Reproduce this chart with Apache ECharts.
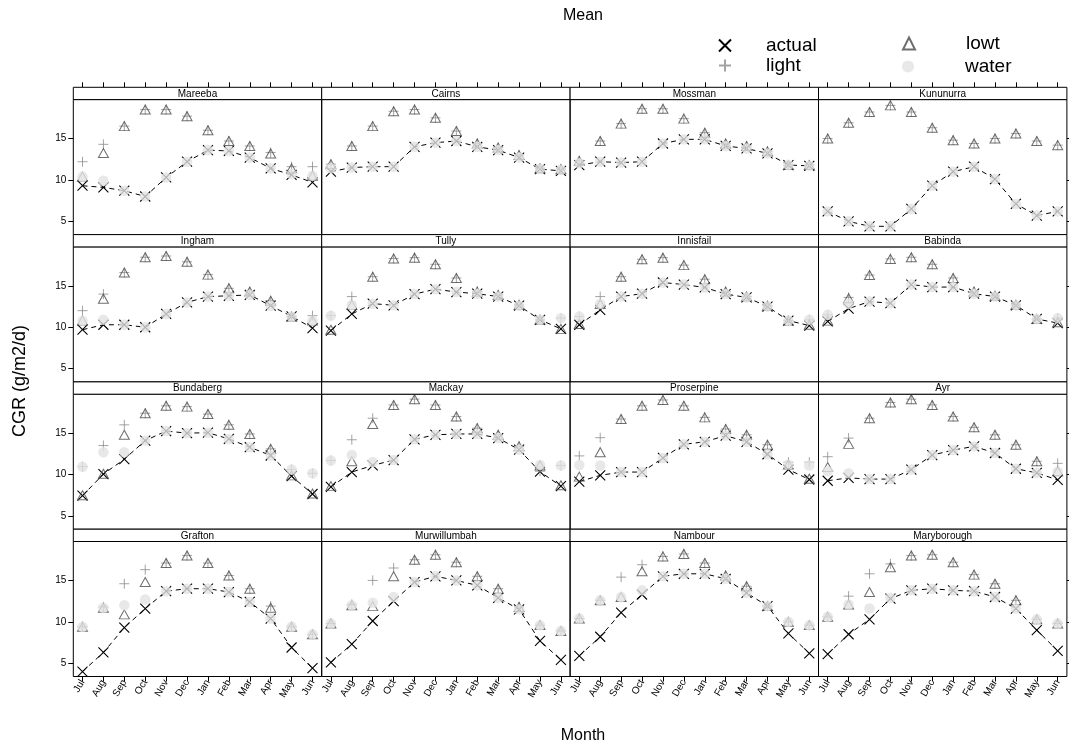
<!DOCTYPE html>
<html>
<head>
<meta charset="utf-8">
<script src="https://cdn.jsdelivr.net/npm/echarts@6/dist/echarts.min.js"></script>
<style>
  html, body { margin: 0; padding: 0; background: #fff; }
  #chart { width: 1069px; height: 752px; }
</style>
</head>
<body>
<div id="chart"></div>
<script>
// Mean monthly crop growth rate (g/m2/d) by site, July to June
const months = ['Jul', 'Aug', 'Sep', 'Oct', 'Nov', 'Dec', 'Jan', 'Feb', 'Mar', 'Apr', 'May', 'Jun'];
const sites = ['Mareeba', 'Cairns', 'Mossman', 'Kununurra',
               'Ingham', 'Tully', 'Innisfail', 'Babinda',
               'Bundaberg', 'Mackay', 'Proserpine', 'Ayr',
               'Grafton', 'Murwillumbah', 'Nambour', 'Maryborough'];
const yTicks = [5, 10, 15];

const actual = [
  [9.3, 9.1, 8.7, 8.0, 10.3, 12.2, 13.6, 13.5, 12.7, 11.4, 10.6, 9.7],
  [11.0, 11.5, 11.6, 11.6, 14.0, 14.5, 14.7, 14.0, 13.6, 12.7, 11.3, 11.1],
  [11.8, 12.2, 12.1, 12.2, 14.4, 14.9, 14.9, 14.1, 13.8, 13.2, 11.8, 11.7],
  [6.2, 5.0, 4.4, 4.4, 6.5, 9.3, 11.0, 11.6, 10.1, 7.1, 5.7, 6.2],
  [9.7, 10.3, 10.3, 10.0, 11.6, 13.0, 13.7, 13.8, 13.9, 12.6, 11.3, 9.9],
  [9.6, 11.6, 12.85, 12.65, 14.0, 14.6, 14.25, 14.05, 13.7, 12.6, 10.9, 9.8],
  [10.3, 12.1, 13.7, 14.05, 15.4, 15.15, 14.8, 14.0, 13.6, 12.5, 10.8, 10.2],
  [10.7, 12.25, 13.1, 12.9, 15.15, 14.85, 14.85, 14.05, 13.7, 12.65, 11.0, 10.5],
  [7.45, 10.05, 11.85, 14.1, 15.25, 15.0, 15.05, 14.3, 13.3, 12.3, 9.8, 7.65],
  [8.5, 10.3, 11.1, 11.75, 14.25, 14.8, 14.9, 14.9, 14.4, 13.0, 10.35, 8.6],
  [9.15, 9.9, 10.3, 10.3, 12.0, 13.65, 13.95, 14.7, 13.95, 12.45, 10.6, 9.4],
  [9.25, 9.6, 9.45, 9.45, 10.6, 12.35, 12.95, 13.4, 12.6, 10.7, 10.2, 9.35],
  [4.0, 6.3, 9.3, 11.6, 13.7, 14.0, 14.0, 13.6, 12.4, 10.4, 6.9, 4.4],
  [5.1, 7.3, 10.1, 12.5, 14.8, 15.5, 15.0, 14.4, 12.9, 11.5, 7.7, 5.4],
  [5.9, 8.2, 11.1, 13.3, 15.5, 15.8, 15.8, 15.2, 13.5, 11.9, 8.6, 6.2],
  [6.1, 8.5, 10.3, 12.8, 13.8, 14.0, 13.8, 13.7, 13.0, 11.6, 9.0, 6.5]
];

const light = [
  [12.2, 14.3, 16.5, 18.5, 18.5, 17.7, 16.0, 14.7, 14.1, 13.3, 11.6, 11.6],
  [11.9, 14.1, 16.5, 18.3, 18.5, 17.5, 15.9, 14.4, 13.9, 13.0, 11.4, 11.3],
  [12.3, 14.7, 16.8, 18.6, 18.6, 17.4, 15.7, 14.4, 14.1, 13.45, 11.8, 11.8],
  [15.0, 16.9, 18.2, 19.0, 18.2, 16.3, 14.8, 14.4, 15.0, 15.6, 14.7, 14.2],
  [12.0, 14.0, 16.6, 18.45, 18.6, 17.9, 16.35, 14.7, 14.3, 13.2, 11.3, 11.4],
  [11.4, 13.7, 16.1, 18.3, 18.4, 17.6, 15.95, 14.3, 13.9, 12.7, 10.9, 11.1],
  [11.3, 13.7, 16.1, 18.2, 18.4, 17.5, 15.8, 14.3, 13.7, 12.6, 10.8, 10.9],
  [11.5, 13.6, 16.3, 18.25, 18.45, 17.6, 15.95, 14.3, 13.8, 12.7, 11.0, 11.1],
  [10.95, 13.5, 16.0, 17.4, 18.3, 18.2, 17.3, 16.0, 14.9, 13.1, 10.6, 10.15],
  [11.7, 14.2, 16.8, 18.4, 19.1, 18.4, 17.0, 15.6, 14.8, 13.4, 10.4, 11.1],
  [12.25, 14.45, 16.7, 18.3, 19.0, 18.3, 16.9, 15.5, 14.8, 13.6, 11.5, 11.5],
  [12.15, 14.4, 16.8, 18.7, 19.1, 18.4, 17.0, 15.7, 14.8, 13.6, 11.6, 11.35],
  [9.4, 11.8, 14.6, 16.3, 17.1, 18.0, 17.1, 15.6, 14.0, 11.9, 9.4, 8.5],
  [9.8, 12.1, 15.0, 16.5, 17.5, 18.1, 17.2, 15.5, 14.0, 11.8, 9.6, 8.9],
  [10.4, 12.6, 15.4, 16.9, 17.9, 18.2, 17.1, 15.6, 14.3, 11.9, 10.0, 9.6],
  [10.6, 13.1, 15.8, 17.0, 18.0, 18.1, 17.2, 15.7, 14.6, 12.6, 10.3, 9.8]
];

const lowt = [
  [10.4, 13.25, 16.5, 18.5, 18.5, 17.7, 16.0, 14.7, 14.1, 13.2, 11.4, 10.5],
  [11.9, 14.1, 16.5, 18.3, 18.5, 17.5, 15.9, 14.4, 13.9, 13.0, 11.4, 11.3],
  [12.3, 14.7, 16.8, 18.6, 18.6, 17.4, 15.7, 14.4, 14.1, 13.45, 11.8, 11.8],
  [15.0, 16.9, 18.2, 19.0, 18.2, 16.3, 14.8, 14.4, 15.0, 15.6, 14.7, 14.2],
  [10.8, 13.45, 16.6, 18.45, 18.6, 17.9, 16.35, 14.7, 14.3, 13.2, 11.3, 10.8],
  [9.7, 12.7, 16.1, 18.3, 18.4, 17.6, 15.95, 14.3, 13.9, 12.7, 10.9, 9.8],
  [10.4, 12.8, 16.1, 18.2, 18.4, 17.5, 15.8, 14.3, 13.7, 12.6, 10.8, 10.3],
  [10.8, 13.5, 16.3, 18.25, 18.45, 17.6, 15.95, 14.3, 13.8, 12.7, 11.0, 10.6],
  [7.5, 10.1, 14.8, 17.4, 18.3, 18.2, 17.3, 16.0, 14.9, 13.1, 9.9, 7.7],
  [8.6, 11.6, 16.1, 18.4, 19.1, 18.4, 17.0, 15.6, 14.8, 13.4, 11.1, 8.7],
  [9.75, 12.7, 16.7, 18.3, 19.0, 18.3, 16.9, 15.5, 14.8, 13.6, 11.2, 9.5],
  [10.9, 13.7, 16.8, 18.7, 19.1, 18.4, 17.0, 15.7, 14.8, 13.6, 11.6, 10.4],
  [9.4, 11.7, 10.9, 14.8, 17.1, 18.0, 17.1, 15.6, 14.0, 11.7, 9.4, 8.5],
  [9.8, 12.0, 11.9, 15.5, 17.5, 18.1, 17.2, 15.5, 14.0, 11.8, 9.6, 8.9],
  [10.4, 12.6, 13.0, 16.1, 17.9, 18.2, 17.1, 15.6, 14.3, 11.9, 10.0, 9.6],
  [10.6, 12.1, 13.6, 16.6, 18.0, 18.1, 17.2, 15.7, 14.6, 12.6, 10.3, 9.8]
];

const water = [
  [10.4, 9.9, 8.7, 8.0, 10.3, 12.2, 13.6, 13.5, 12.7, 11.4, 10.7, 10.5],
  [11.4, 11.5, 11.6, 11.6, 14.0, 14.5, 14.7, 14.0, 13.6, 12.7, 11.35, 11.2],
  [12.0, 12.2, 12.1, 12.2, 14.4, 14.9, 14.9, 14.1, 13.8, 13.2, 11.8, 11.7],
  [6.2, 5.0, 4.4, 4.4, 6.5, 9.3, 11.0, 11.6, 10.1, 7.1, 5.7, 6.2],
  [10.8, 10.9, 10.3, 10.0, 11.6, 13.0, 13.7, 13.8, 13.9, 12.6, 11.3, 10.8],
  [11.4, 12.7, 12.85, 12.65, 14.0, 14.6, 14.25, 14.05, 13.7, 12.6, 10.9, 11.1],
  [11.3, 12.8, 13.7, 14.05, 15.4, 15.15, 14.8, 14.0, 13.6, 12.5, 10.8, 10.9],
  [11.5, 12.85, 13.1, 12.9, 15.15, 14.85, 14.85, 14.05, 13.7, 12.65, 11.0, 11.1],
  [10.95, 12.7, 12.7, 14.1, 15.25, 15.0, 15.05, 14.3, 13.3, 12.3, 10.6, 10.15],
  [11.7, 12.35, 11.5, 11.75, 14.25, 14.8, 14.9, 14.9, 14.4, 13.0, 11.15, 11.1],
  [11.15, 11.1, 10.3, 10.3, 12.0, 13.65, 13.95, 14.7, 13.95, 12.45, 11.2, 11.1],
  [10.4, 10.15, 9.45, 9.45, 10.6, 12.35, 12.95, 13.4, 12.6, 10.7, 10.2, 10.35],
  [9.4, 11.7, 12.0, 12.7, 13.7, 14.0, 14.0, 13.6, 12.4, 10.4, 9.4, 8.5],
  [9.8, 12.0, 12.3, 13.0, 14.8, 15.5, 15.0, 14.4, 12.9, 11.5, 9.6, 8.9],
  [10.4, 12.6, 13.0, 13.8, 15.5, 15.8, 15.8, 15.2, 13.5, 11.9, 10.0, 9.6],
  [10.6, 12.1, 11.6, 12.9, 13.8, 14.0, 13.8, 13.7, 13.0, 11.6, 10.3, 9.8]
];

const FONT = '"Liberation Sans", Arial, Helvetica, sans-serif';
const CROSS = 'path://M0,0L10,10M10,0L0,10';
const PLUS = 'path://M5,0L5,10M0,5L10,5';

// panel layout: 4 x 4 lattice with a strip above each panel
const PANEL_LEFT = 73.3, PANEL_W = 248.4, PANEL_TOP = 87.3, ROW_H = 147.3, STRIP_H = 12.3;
const NCOL = 4, NROW = 4;
const monthIdx = months.map((m, k) => k);
const X_MIN = -0.44, X_MAX = 11.44, Y_MIN = 3.4, Y_MAX = 19.7;

const grids = [], xAxes = [], yAxes = [], series = [], graphics = [];
const tickStyle = { color: '#000', width: 1 };

sites.forEach((site, i) => {
  const r = Math.floor(i / NCOL), c = i % NCOL;
  const left = PANEL_LEFT + c * PANEL_W;
  const rowTop = PANEL_TOP + r * ROW_H;
  grids.push({
    left: left, top: rowTop + STRIP_H, width: PANEL_W, height: ROW_H - STRIP_H,
    show: true, borderColor: '#000', borderWidth: 1, backgroundColor: 'transparent'
  });

  // x axis: month labels under the bottom row, plain ticks above the top row
  const bottomRow = r === NROW - 1, topRow = r === 0;
  xAxes.push({
    type: 'value', gridIndex: i, min: X_MIN, max: X_MAX,
    position: topRow ? 'top' : 'bottom', offset: topRow ? STRIP_H : 0,
    axisLine: { show: false, onZero: false }, splitLine: { show: false },
    axisTick: { show: bottomRow || topRow, customValues: monthIdx, length: 5, lineStyle: tickStyle },
    axisLabel: {
      show: bottomRow, customValues: monthIdx, rotate: 60, margin: 4,
      formatter: v => months[Math.round(v)], fontSize: 10, color: '#000', fontFamily: FONT
    }
  });

  // y axis: labelled on the left column, plain ticks on the right column
  const leftCol = c === 0, rightCol = c === NCOL - 1;
  yAxes.push({
    type: 'value', gridIndex: i, min: Y_MIN, max: Y_MAX,
    position: rightCol ? 'right' : 'left',
    axisLine: { show: false, onZero: false }, splitLine: { show: false },
    axisTick: { show: leftCol || rightCol, customValues: yTicks, length: 5, lineStyle: tickStyle },
    axisLabel: { show: leftCol, customValues: yTicks, margin: 7, fontSize: 10, color: '#000', fontFamily: FONT }
  });

  const pts = arr => arr[i].map((v, k) => [k, v]);
  series.push({
    name: 'actual', type: 'line', xAxisIndex: i, yAxisIndex: i, data: pts(actual),
    symbol: CROSS, symbolSize: 10, showAllSymbol: true, z: 2,
    lineStyle: { color: '#000', width: 1, type: [5, 4] },
    itemStyle: { color: 'rgba(0,0,0,0)', borderColor: '#000', borderWidth: 1.1 },
    emphasis: { disabled: true }
  });
  series.push({
    name: 'light', type: 'scatter', xAxisIndex: i, yAxisIndex: i, data: pts(light),
    symbol: PLUS, symbolSize: 10, z: 3,
    itemStyle: { color: 'rgba(0,0,0,0)', borderColor: '#8c8c8c', borderWidth: 1 },
    emphasis: { disabled: true }
  });
  series.push({
    name: 'lowt', type: 'scatter', xAxisIndex: i, yAxisIndex: i, data: pts(lowt),
    symbol: 'triangle', symbolSize: [10, 9], z: 4,
    itemStyle: { color: 'rgba(0,0,0,0)', borderColor: '#4a4a4a', borderWidth: 1 },
    emphasis: { disabled: true }
  });
  series.push({
    name: 'water', type: 'scatter', xAxisIndex: i, yAxisIndex: i, data: pts(water),
    symbol: 'circle', symbolSize: 10.5, z: 5,
    itemStyle: { color: '#e2e2e2' },
    emphasis: { disabled: true }
  });

  // strip with the site name
  graphics.push({
    type: 'rect', shape: { x: left, y: rowTop, width: PANEL_W, height: STRIP_H },
    style: { fill: '#fff', stroke: '#000', lineWidth: 1 }, z: 10
  });
  graphics.push({
    type: 'text', x: left + PANEL_W / 2, y: rowTop + STRIP_H / 2 + 0.5, z: 11,
    style: { text: site, fill: '#000', font: '10px ' + FONT, textAlign: 'center', textVerticalAlign: 'middle' }
  });
});

graphics.push({
  type: 'text', x: 583, y: 16,
  style: { text: 'Mean', fill: '#000', font: '16px ' + FONT, textAlign: 'center', textVerticalAlign: 'middle' }
});
graphics.push({
  type: 'text', x: 583, y: 736,
  style: { text: 'Month', fill: '#000', font: '16px ' + FONT, textAlign: 'center', textVerticalAlign: 'middle' }
});
graphics.push({
  type: 'text', x: 20, y: 381, rotation: Math.PI / 2,
  style: { text: 'CGR (g/m2/d)', fill: '#000', font: '18px ' + FONT, textAlign: 'center', textVerticalAlign: 'middle' }
});

const legendEntry = (name, icon, left, top, gap) => ({
  data: [{ name: name, icon: icon }], left: left, top: top, itemWidth: 12, itemHeight: 12,
  selectedMode: false, padding: 0,
  textStyle: { color: '#000', fontSize: 19, fontFamily: FONT, padding: [0, 0, 0, gap] }
});

const option = {
  animation: false,
  backgroundColor: '#fff',
  grid: grids,
  xAxis: xAxes,
  yAxis: yAxes,
  series: series,
  graphic: graphics,
  legend: [
    legendEntry('actual', CROSS, 718, 36, 30),
    legendEntry('lowt', 'triangle', 902, 34, 46),
    legendEntry('light', PLUS, 718, 56, 30),
    legendEntry('water', 'circle', 902, 57, 46)
  ]
};

const chart = echarts.init(document.getElementById('chart'), null, { renderer: 'canvas' });
chart.setOption(option);
</script>
</body>
</html>
